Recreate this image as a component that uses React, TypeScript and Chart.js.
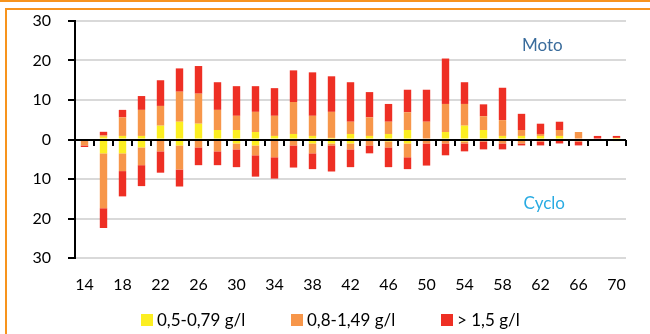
import React, { useEffect, useRef } from "react";
import { Chart, registerables } from "chart.js";

Chart.register(...registerables);

const ages = [14,16,18,20,22,24,26,28,30,32,34,36,38,40,42,44,46,48,50,52,54,56,58,60,62,64,66,68,70];
const seriesLabels = ["0,5-0,79 g/l", "0,8-1,49 g/l", "> 1,5 g/l"];
const yTicks = [-30, -20, -10, 0, 10, 20, 30];

// Moto (positive)
const motoYellow = [0,0.7,0.9,0.9,3.5,4.5,4.0,2.4,2.4,1.9,0.9,1.4,0.9,0.4,1.4,0.9,1.4,2.4,0,1.9,3.5,2.4,0.9,0.9,0.9,0.9,0,0,0.4];
const motoOrange = [0,0.4,4.7,6.6,5.0,7.6,7.6,5.1,3.6,5.1,5.1,8.1,5.1,6.6,3.1,4.7,3.1,4.5,4.5,7.1,5.5,3.5,4.0,1.5,0.5,1.5,1.9,0,0];
const motoRed = [0,0.85,1.9,3.5,6.5,5.9,7.0,7.0,7.5,6.5,7.0,8.0,11.0,9.0,10.0,6.4,4.5,5.7,8.1,11.5,5.5,3.0,8.2,4.1,2.6,2.1,0,0.9,0.5];

// Cyclo (negative)
const cycloYellow = [0,-3.5,-3.5,-2.0,0,-1.5,0,0,-1.0,-1.5,0,0,-1.0,-1.0,-1.0,0,-0.5,-1.0,0,0,-0.5,0,0,0,0,0,0,0,-0.4];
const cycloOrange = [-1.5,-13.9,-4.5,-4.5,-3.0,-6.1,-2.0,-3.0,-1.5,-2.5,-4.5,-1.5,-2.5,-0.5,-1.5,-1.5,-1.5,-3.5,-1.0,-1.0,-0.5,-0.5,-1.0,-1.0,-0.5,-0.3,-0.5,0,0];
const cycloRed = [-0.4,-5.0,-6.4,-5.3,-5.4,-4.3,-4.5,-3.5,-4.5,-5.4,-5.4,-5.6,-4.0,-6.6,-4.5,-2.0,-5.0,-3.0,-5.6,-3.0,-2.0,-2.0,-1.5,-0.5,-1.0,-0.7,-1.0,0,0];

const colors = ["#FCEE21", "#F7964A", "#EE2F24"];
const FONT = "Lato, 'Open Sans', sans-serif";

const overlayPlugin = {
  id: "overlay",
  afterDatasetsDraw(chart: any) {
    const { ctx, chartArea, scales } = chart;
    const x = scales.x;
    const y = scales.y;
    const y0 = Math.round(y.getPixelForValue(0));
    ctx.save();
    ctx.strokeStyle = "#000";
    ctx.lineWidth = 2;
    ctx.beginPath();
    ctx.moveTo(chartArea.left - 7, y0);
    ctx.lineTo(chartArea.right, y0);
    ctx.stroke();
    const n = ages.length;
    const w = (chartArea.right - chartArea.left) / n;
    for (let i = 1; i <= n; i++) {
      const px = Math.round(chartArea.left + i * w);
      ctx.beginPath();
      ctx.moveTo(px, y0);
      ctx.lineTo(px, y0 + 6);
      ctx.stroke();
    }
    ctx.font = "17px " + FONT;
    ctx.textAlign = "center";
    ctx.textBaseline = "middle";
    ctx.fillStyle = "#3A6C9C";
    ctx.fillText("Moto", x.getPixelForValue(24.1), y.getPixelForValue(23.8));
    ctx.fillStyle = "#29ABE2";
    ctx.fillText("Cyclo", x.getPixelForValue(24.2), y.getPixelForValue(-16.3));

    // legend (three equal slots, like the original)
    const legendY = 320;
    const slotStart = 141;
    const slot = 150;
    ctx.font = "17px " + FONT;
    ctx.textAlign = "left";
    ctx.textBaseline = "middle";
    seriesLabels.forEach((lab, i) => {
      const bx = slotStart + i * slot;
      ctx.fillStyle = colors[i];
      ctx.fillRect(bx, legendY - 6, 12, 12);
      ctx.fillStyle = "#000";
      ctx.fillText(lab, bx + 16, legendY + 1);
    });
    ctx.restore();
  },
};

export default function App() {
  const ref = useRef<HTMLCanvasElement | null>(null);
  useEffect(() => {
    if (!ref.current) return;
    const mk = (label: string, data: number[], c: string) => ({
      label,
      data,
      backgroundColor: c,
      borderWidth: 0,
      stack: "s",
      categoryPercentage: 1,
      barPercentage: 0.39,
    });
    const chart = new Chart(ref.current, {
      type: "bar",
      data: {
        labels: ages.map(String),
        datasets: [
          mk(seriesLabels[0], motoYellow, colors[0]),
          mk(seriesLabels[1], motoOrange, colors[1]),
          mk(seriesLabels[2], motoRed, colors[2]),
          mk(seriesLabels[0] + " ", cycloYellow, colors[0]),
          mk(seriesLabels[1] + " ", cycloOrange, colors[1]),
          mk(seriesLabels[2] + " ", cycloRed, colors[2]),
        ],
      },
      options: {
        animation: false,
        responsive: false,
        layout: { padding: { top: 21, right: 24, left: 0, bottom: 40 } },
        plugins: {
          tooltip: { enabled: false },
          legend: { display: false },
        },
        scales: {
          x: {
            stacked: true,
            grid: { display: false, drawTicks: false },
            border: { display: false },
            afterFit: (s: any) => {
              s.height = 36;
            },
            ticks: {
              color: "#000",
              font: { family: FONT, size: 16 },
              padding: 17,
              maxRotation: 0,
              autoSkip: false,
              callback: (_v: any, i: number) => (i % 2 === 0 ? String(ages[i]) : ""),
            },
          },
          y: {
            stacked: true,
            min: -30,
            max: 30,
            afterBuildTicks: (s: any) => {
              s.ticks = yTicks.map((v) => ({ value: v }));
            },
            afterFit: (s: any) => {
              s.width = 75;
              s.paddingTop = 10;
              s.paddingBottom = 10;
            },
            grid: {
              color: (c: any) => (c.tick && c.tick.value === 0 ? "rgba(0,0,0,0)" : "#D9D9D9"),
              lineWidth: 2,
              tickColor: "#000",
              tickLength: 7,
              drawTicks: true,
            },
            border: { display: true, color: "#000", width: 2 },
            ticks: {
              color: "#000",
              font: { family: FONT, size: 16 },
              padding: 17,
              callback: (v: any) => String(Math.abs(Number(v))),
            },
          },
        },
      },
      plugins: [overlayPlugin],
    });
    return () => chart.destroy();
  }, []);
  return (
    <div style={{ position: "fixed", left: 0, top: 0, width: 650, height: 334, background: "#fff", overflow: "hidden" }}>
      <div style={{ position: "absolute", left: 0, top: 0, width: 650, height: 2, background: "#F7941D" }} />
      <div style={{ position: "absolute", left: 5, top: 8, width: 645, height: 2, background: "#F7941D" }} />
      <div style={{ position: "absolute", left: 5, top: 8, width: 2, height: 326, background: "#F7941D" }} />
      <canvas ref={ref} width={650} height={334} style={{ position: "absolute", left: 0, top: 0 }} />
    </div>
  );
}
